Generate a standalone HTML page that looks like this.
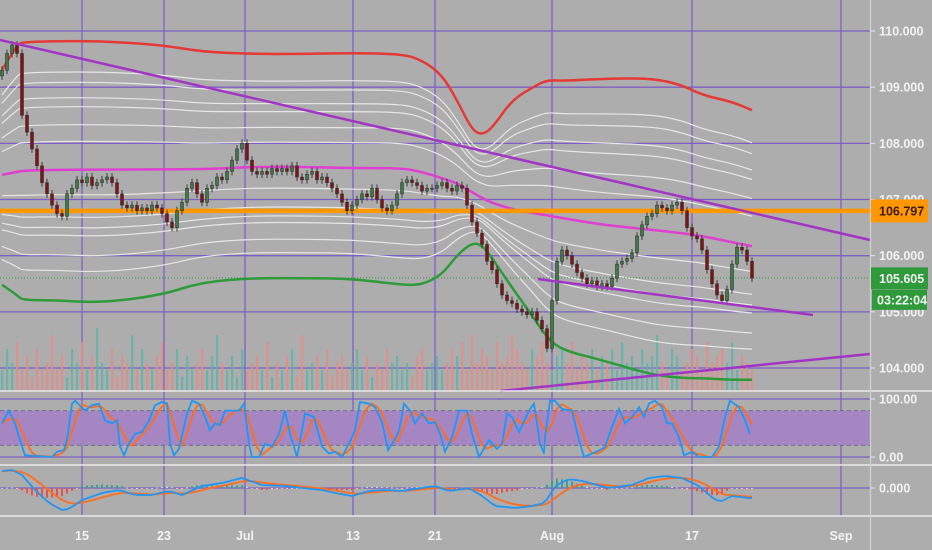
<!DOCTYPE html>
<html><head><meta charset="utf-8"><style>
html,body{margin:0;padding:0;background:#adadad;}
svg{display:block;font-family:"Liberation Sans",sans-serif;}
</style></head><body>
<svg id="c" width="932" height="550" viewBox="0 0 932 550">
<rect x="0" y="0" width="932" height="550" fill="#adadad"/>
<g id="grid"></g>
<g id="vol"></g>
<g id="bands"></g>
<g id="candles"></g>
<g id="trend"></g>
<g id="stoch"></g>
<g id="macd"></g>
<g id="axis"></g>
</svg>
<script>
const closes=[109.3,109.6,109.75,109.6,108.5,108.2,107.9,107.6,107.3,107.1,106.9,106.75,106.7,107.1,107.2,107.35,107.3,107.4,107.25,107.3,107.35,107.4,107.3,107.1,106.9,106.85,106.9,106.8,106.85,106.8,106.9,106.85,106.75,106.6,106.5,106.8,106.95,107.2,107.3,107.1,106.95,107.2,107.25,107.4,107.35,107.5,107.7,107.9,108.0,107.7,107.5,107.45,107.5,107.45,107.55,107.5,107.55,107.5,107.6,107.4,107.35,107.45,107.5,107.35,107.4,107.3,107.2,107.1,106.95,106.8,106.9,107.0,107.1,107.05,107.2,107.0,106.85,106.8,106.9,107.1,107.3,107.35,107.3,107.25,107.15,107.2,107.2,107.25,107.3,107.2,107.15,107.25,107.2,106.9,106.6,106.4,106.2,105.9,105.75,105.5,105.3,105.2,105.15,105.05,105.0,104.95,105.0,104.85,104.7,104.35,105.2,105.9,106.1,106.0,105.85,105.7,105.6,105.5,105.55,105.45,105.5,105.45,105.6,105.85,105.9,105.95,106.05,106.35,106.55,106.7,106.75,106.9,106.85,106.8,106.9,106.95,106.8,106.5,106.35,106.3,106.1,105.75,105.5,105.3,105.2,105.4,105.85,106.15,106.1,105.9,105.6];
const volumes=[3,6,4,7,3,5,2,6,3,4,8,3,5,2,6,4,7,3,5,9,4,3,6,2,5,4,8,3,6,4,3,5,7,3,4,6,2,5,3,4,6,3,5,8,4,3,5,2,6,3,4,5,3,7,2,4,3,5,6,2,8,3,4,5,3,6,2,4,5,3,4,6,3,5,2,4,3,6,4,5,3,4,2,5,6,3,4,5,3,4,6,5,7,3,8,4,6,5,3,7,4,5,8,6,4,3,6,5,7,4,3,5,6,4,7,3,5,4,6,3,5,4,6,3,7,4,5,3,6,4,5,8,4,3,6,5,3,4,6,5,3,7,4,5,6,4,7,3,5,4,3];
const bandIdx=[0,3,4,10,20,32,40,50,60,70,80,84,88,91,94,96,98,102,106,109,112,120,130,136,140,146,150];
const redBand=[109.31,109.75,109.8,109.82,109.82,109.75,109.63,109.59,109.59,109.61,109.59,109.48,109.22,108.77,108.24,108.15,108.27,108.77,108.99,109.13,109.11,109.15,109.16,109.04,108.86,108.74,108.59];
const midBand=[107.44,107.49,107.51,107.53,107.53,107.54,107.54,107.58,107.58,107.56,107.56,107.49,107.38,107.29,107.13,107.03,106.94,106.83,106.76,106.72,106.67,106.55,106.46,106.4,106.35,106.24,106.17];
const lowBand=[105.48,105.3,105.21,105.21,105.16,105.3,105.53,105.6,105.6,105.59,105.48,105.48,105.66,106.01,106.23,106.19,105.96,105.43,104.94,104.54,104.32,104.14,103.88,103.82,103.82,103.79,103.79];
const kIdx=[0,1.4,2.6,4,4.6,10,11,12.4,13,14,14.6,16.6,18,19.4,20.6,22,23,23.6,24.4,25.4,26.6,28,29.4,30.6,32,33,33.6,34.4,35.4,37,38,39.4,40.6,41.6,42.6,43.6,44.6,46,47.4,48.4,49.4,50,51.4,52.6,54,55.4,56.6,57.6,59,60,60.6,62.4,64,65.4,66.6,68,69.4,70.6,71.6,73.4,74.6,76,77.2,78.4,79.4,80.4,81.6,82.6,84,85.4,86.6,87.6,88.6,90,91.4,93,94,95.4,97.4,99,100,101,102,103.4,105.4,106.4,107.6,108.4,108.6,109.6,110.6,112,114,115.4,116.4,119.4,120.6,122,123.4,124.6,126,127.4,128.4,129.4,130.6,132,133,134,135.4,136.4,138,139.4,142,143.4,144.6,145.6,147.4,148.6,149.6];
const kVal=[58,80,58,18,3,0,9,12,29,92,97,80,89,92,63,58,63,18,3,23,40,43,63,89,95,92,23,3,14,75,97,92,69,46,58,55,80,80,80,92,23,0,0,23,18,40,80,40,0,46,75,69,18,6,9,0,23,46,95,92,86,60,12,28,45,92,80,58,75,58,60,40,9,34,80,80,40,0,29,14,23,75,69,43,80,92,23,6,34,97,97,83,80,29,0,11,17,52,83,58,69,86,69,92,97,86,58,58,34,3,9,0,0,18,69,97,86,63,40];
const macdIdx=[0,2,4,6.6,9.4,12,13.4,16,20,23.4,26.6,30,33.4,36,40,44,48,52,56.6,60,64,66.6,70,73.4,76.6,80,86.6,89.4,93.4,96,98.6,102.6,106,108.6,110.6,113.4,116,121.4,126,129.4,132.6,136,139.4,142.6,144,146,149.4];
const macdVal=[17,18,13,-2,-15,-22,-21,-12,-5,-2,-7,-7,-3,-7,2,5,10,3,2,0,-2,-5,-8,-3,-2,-3,2,-3,0,-8,-18,-20,-18,-15,2,9,7,0,3,10,12,10,2,-12,-13,-8,-10];
const priceTicks=[110,109,108,107,106,105,104];
const timeLabels=["15","23","Jul","13","21","Aug","17","Sep"];
const timeIdx=[16,32.4,48.6,70.2,86.6,110,138,167.8];
const lastPrice=105.605, hLine=106.797;

const NS="http://www.w3.org/2000/svg";
const X=i=>2+i*5;
const Y=p=>31+(110-p)*56.17;
const SY=v=>457-v*0.58;
const MY=v=>488-v;
const W=870;
function el(tag,attrs,parent){const e=document.createElementNS(NS,tag);for(const k in attrs)e.setAttribute(k,attrs[k]);parent.appendChild(e);return e;}
function smooth(pts){let d="M"+pts[0][0].toFixed(1)+" "+pts[0][1].toFixed(1);for(let i=1;i<pts.length-1;i++){const mx=(pts[i][0]+pts[i+1][0])/2,my=(pts[i][1]+pts[i+1][1])/2;d+=" Q"+pts[i][0].toFixed(1)+" "+pts[i][1].toFixed(1)+" "+mx.toFixed(1)+" "+my.toFixed(1);}const l=pts[pts.length-1];d+=" L"+l[0].toFixed(1)+" "+l[1].toFixed(1);return d;}
function lerpSeries(idx,val,i){if(i<=idx[0])return val[0];for(let k=1;k<idx.length;k++){if(i<=idx[k]){const t=(i-idx[k-1])/(idx[k]-idx[k-1]);return val[k-1]+t*(val[k]-val[k-1]);}}return val[val.length-1];}

const grid=document.getElementById('grid');
const gc="#7e5fc4";
priceTicks.forEach(p=>{const l=el('line',{x1:0,x2:W,y1:Y(p),y2:Y(p),stroke:gc,'stroke-width':1.3},grid);

});
[399,457,488].forEach(y=>{const l=el('line',{x1:0,x2:W,y1:y,y2:y,stroke:gc,'stroke-width':1.3},grid);

});
timeIdx.forEach(i=>{const l=el('line',{x1:X(i),x2:X(i),y1:0,y2:516,stroke:gc,'stroke-width':1.3},grid);

});

const vol=document.getElementById('vol');
volumes.forEach((v,i)=>{if(i>=closes.length)return;const up=i===0||closes[i]>=closes[i-1];
const r=el('rect',{x:X(i)-1,y:391-v*7,width:2.2,height:v*7,fill:up?'#5fb3a9':'#e58c86',opacity:0.85},vol);

});

const bands=document.getElementById('bands');
function bandPath(vals,color,w,name){const pts=bandIdx.map((i,k)=>[X(i),Y(vals[k])]);const p=el('path',{d:smooth(pts),fill:'none',stroke:color,'stroke-width':w},bands);

}
const up=[0.24,0.32,0.44,0.51,0.65,0.78],dn=[0.19,0.36,0.44,0.5,0.65,0.77];
up.forEach(f=>bandPath(redBand.map((r,k)=>r+(midBand[k]-r)*f),'#e6e6e6',1.2,'upper-white-band'));
dn.forEach(f=>bandPath(midBand.map((m,k)=>m+(lowBand[k]-m)*f),'#e6e6e6',1.2,'lower-white-band'));
bandPath(redBand,'#e53935',2.5,'red-upper-band');
bandPath(midBand,'#e040d0',2.5,'magenta-mid-band');
bandPath(lowBand,'#2e9a3a',2.5,'green-lower-band');
const hl=el('line',{x1:0,x2:W,y1:Y(hLine),y2:Y(hLine),stroke:'#ff9800','stroke-width':4.5},bands);


const cp=el('line',{x1:0,x2:W,y1:Y(lastPrice),y2:Y(lastPrice),stroke:'#2e9a3a','stroke-width':1,'stroke-dasharray':'1 2'},bands);



const cg=document.getElementById('candles');
closes.forEach((c,i)=>{const o=i===0?c-0.1:closes[i-1];const hi=Math.max(o,c)+0.07,lo=Math.min(o,c)-0.07;const upc=c>=o;
const w=el('line',{x1:X(i),x2:X(i),y1:Y(hi),y2:Y(lo),stroke:'#3a3a3a','stroke-width':1},cg);


const b=el('rect',{x:X(i)-1.5,y:Y(Math.max(o,c)),width:3,height:Math.max(1,Math.abs(Y(o)-Y(c))),fill:upc?'#3f7a45':'#7d1515',stroke:'#2a2a2a','stroke-width':0.5},cg);

});

const tg=document.getElementById('trend');
[[0,40,870,240],[538,279,813,315],[500,391,870,354]].forEach((t,k)=>{const l=el('line',{x1:t[0],y1:t[1],x2:t[2],y2:t[3],stroke:'#a236c4','stroke-width':2.5},tg);

});

const sg=document.getElementById('stoch');
const fill=el('rect',{x:0,y:SY(80),width:W,height:SY(20)-SY(80),fill:'#a585c2'},sg);


[80,20].forEach(v=>{const l=el('line',{x1:0,x2:W,y1:SY(v),y2:SY(v),stroke:'#6e6e80','stroke-width':1,'stroke-dasharray':'4 3'},sg);

});
const kPts=kIdx.map((i,k)=>[X(i),SY(kVal[k])]);
const dPts=[];for(let i=0;i<=150;i++){let s=0;for(let j=0;j<3;j++)s+=lerpSeries(kIdx,kVal,Math.max(0,i-j));dPts.push([X(i),SY(s/3)]);}
const dl=el('polyline',{points:dPts.map(p=>p.join(',')).join(' '),fill:'none',stroke:'#ff6d1f','stroke-width':1.8},sg);


const kl=el('polyline',{points:kPts.map(p=>p.join(',')).join(' '),fill:'none',stroke:'#2196f3','stroke-width':1.8},sg);



const mg=document.getElementById('macd');
const mArr=[],sArr=[];
for(let i=0;i<=150;i++){mArr.push(lerpSeries(macdIdx,macdVal,i));}
let ema=mArr[0];for(let i=0;i<=150;i++){ema=ema+(mArr[i]-ema)*0.25;sArr.push(ema);}
for(let i=0;i<=150;i++){const h=(mArr[i]-sArr[i])*0.8;const r=el('rect',{x:X(i)-1,y:Math.min(MY(0),MY(h)),width:2,height:Math.max(0.8,Math.abs(h)),fill:h>=0?(h>1.5?'#3fa08f':'#b8d8d0'):(h<-1.5?'#e5534b':'#f0c0bb')},mg);

}
const sl=el('polyline',{points:sArr.map((v,i)=>X(i)+','+MY(v).toFixed(1)).join(' '),fill:'none',stroke:'#ff6d1f','stroke-width':1.8},mg);


const ml=el('polyline',{points:mArr.map((v,i)=>X(i)+','+MY(v).toFixed(1)).join(' '),fill:'none',stroke:'#2196f3','stroke-width':1.8},mg);



const ax=document.getElementById('axis');
[391,465,516].forEach(y=>{const l=el('line',{x1:0,x2:932,y1:y,y2:y,stroke:'#e8e8e8','stroke-width':1.5},ax);

});
const al=el('line',{x1:870.5,x2:870.5,y1:0,y2:550,stroke:'#d0d0d0','stroke-width':1.3},ax);


function txt(x,y,s,name,fill,anchor){const t=el('text',{x:x,y:y,fill:fill||'#f2f2f2','font-size':12.5,'font-weight':'bold','text-anchor':anchor||'start'},ax);t.textContent=s;

return t;}
priceTicks.forEach(p=>{el('line',{x1:870,x2:875,y1:Y(p),y2:Y(p),stroke:'#e8e8e8'},ax);txt(879,Y(p)+4.5,p.toFixed(3),'price-tick-label');});
el('line',{x1:870,x2:875,y1:399,y2:399,stroke:'#e8e8e8'},ax);
txt(879,403.5,'100.00','stoch-tick-label');
el('line',{x1:870,x2:875,y1:457,y2:457,stroke:'#e8e8e8'},ax);
txt(879,461.5,'0.00','stoch-tick-label');
el('line',{x1:870,x2:875,y1:488,y2:488,stroke:'#e8e8e8'},ax);
txt(879,492.5,'0.000','macd-tick-label');
timeLabels.forEach((s,k)=>{txt(X(timeIdx[k]),540,s,'time-label','#f2f2f2','middle');});
const ob=el('rect',{x:871,y:Y(hLine)-11.5,width:57,height:23,fill:'#ff9800'},ax);


txt(879,Y(hLine)+4.5,hLine.toFixed(3),'level-price-text','#3b1a0a');
const gb=el('rect',{x:871,y:Y(lastPrice)-10.5,width:57,height:22,fill:'#2e9a3a'},ax);


txt(879,Y(lastPrice)+5,lastPrice.toFixed(3),'last-price-text');
const tb=el('rect',{x:872,y:Y(lastPrice)+12,width:55,height:20,fill:'#2e9a3a'},ax);


txt(877,Y(lastPrice)+26.5,'03:22:04','countdown-text');
</script>
</body></html>
